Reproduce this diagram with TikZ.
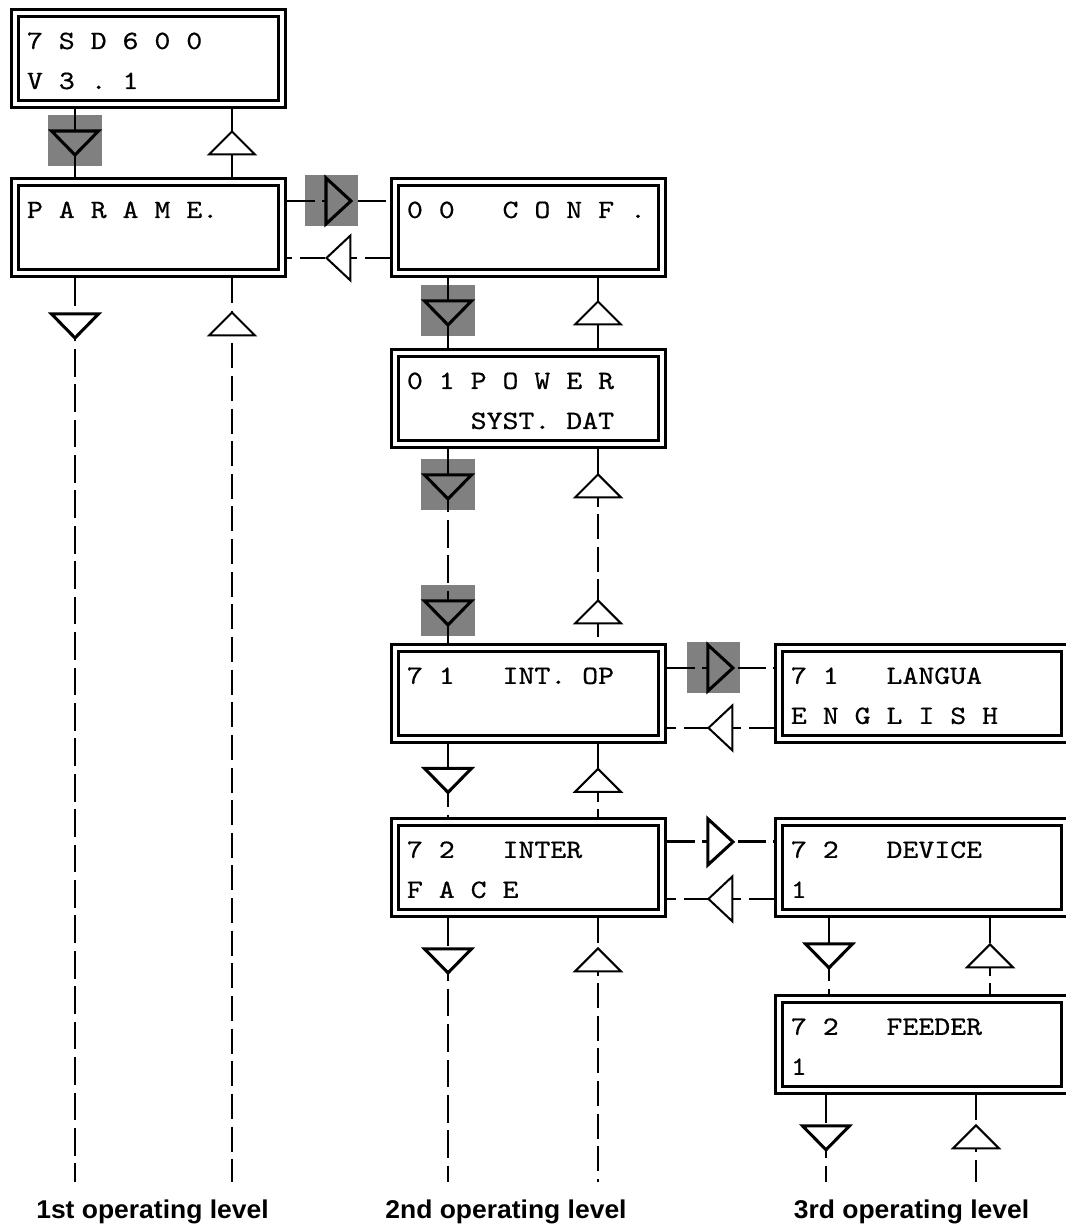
\documentclass[tikz,border=0pt]{standalone}
\usepackage{fontspec}
\usetikzlibrary{positioning, calc}

\newfontfamily\lcdfont[FakeStretch=1.15, FakeBold=0.6]{lmmono10-regular.otf}
\newfontfamily\lvlfont[FakeStretch=1.03]{Liberation Sans}
\newcommand{\lcdtext}{\lcdfont\fontsize{19pt}{28.8pt}\selectfont\frenchspacing}
\newcommand{\lvltext}{\lvlfont\fontsize{18.5pt}{22pt}\selectfont\bfseries}
\definecolor{lcdgray}{RGB}{128,128,128}
\newlength{\lcdwd}
\newcommand{\lcd}[2]{\makebox[\lcdwd][l]{\raisebox{-1.8pt}[\height][\depth]{%
    \begin{tabular}{@{}l@{}}#1\\\mbox{}#2\end{tabular}}}}
\pgfdeclarelayer{background}
\pgfsetlayers{background,main}

\begin{document}
\begin{tikzpicture}[
    x=0.72pt, y=-0.72pt,
    lcd/.style={
        rectangle,
        draw=black,
        double,
        line width=1.94pt,
        double distance=3.3pt,
        outer sep=3.59pt,
        inner sep=0pt,
        inner xsep=8.64pt,
        minimum width=192.24pt,
        minimum height=65.52pt,
        font=\lcdtext,
        execute at begin node={\setlength{\lcdwd}{174.96pt}}
    },
    lcdw/.style={lcd, minimum width=205.92pt,
        execute at begin node={\setlength{\lcdwd}{188.64pt}}},
    fwd/.style={draw=black, line width=2.05pt, dash pattern=on 20pt off 5.5pt},
    back/.style={draw=black, line width=0.95pt, dash pattern=on 18pt off 5.5pt},
    fwdtri/.style={draw=black, fill=white, solid, line width=2.2pt, line join=miter},
    backtri/.style={draw=black, fill=white, solid, line width=1.45pt, line join=miter},
    lvl/.style={anchor=base, font=\lvltext},
    dn/.pic={\path[fwdtri] (-23.5,-12) -- (23.5,-12) -- (0,12) -- cycle;},
    dnhl/.pic={
        \begin{pgfonlayer}{background}
            \fill[lcdgray] (-27,-28) rectangle (27,23);
        \end{pgfonlayer}
        \path[fwdtri, fill=lcdgray] (-23.5,-12) -- (23.5,-12) -- (0,12) -- cycle;},
    rt/.pic={\path[fwdtri] (-12.5,-23) -- (-12.5,23) -- (12.5,0) -- cycle;},
    rthl/.pic={
        \begin{pgfonlayer}{background}
            \fill[lcdgray] (-33.5,-26) rectangle (20,25);
        \end{pgfonlayer}
        \path[fwdtri, fill=lcdgray] (-12.5,-23) -- (-12.5,23) -- (12.5,0) -- cycle;},
    up/.pic={\path[backtri] (-23,11.5) -- (23,11.5) -- (0,-11.5) -- cycle;},
    lt/.pic={\path[backtri] (12,-22.5) -- (12,22.5) -- (-12,0) -- cycle;}
]
    \useasboundingbox (0,0) rectangle (1065,1225);

    \node [lcd, anchor=north west] (sd) at (10,8) {\lcd{7 S D 6 0 0}{V 3 . 1}};
    \node [lcd, below=48.96pt of sd] (param) {\lcd{P A R A M E.}{}};
    \node [lcd, right=74.16pt of param] (conf) {\lcd{0 0\ \ \ C O N F .}{}};
    \node [lcd, below=50.4pt of conf] (power) {\lcd{0 1 P O W E R}{\ \ \ \ SYST. DAT}};
    \node [lcd, below=139.68pt of power] (intop) {\lcd{7 1\ \ \ INT. OP}{}};
    \node [lcd, below=52.56pt of intop] (inter) {\lcd{7 2\ \ \ INTER}{F A C E}};
    \node [lcdw, right=77.04pt of intop] (langua) {\lcd{7 1\ \ \ LANGUA}{E N G L I S H}};
    \node [lcdw, right=77.04pt of inter] (device) {\lcd{7 2\ \ \ DEVICE}{1}};
    \node [lcdw, below=54.72pt of device] (feeder) {\lcd{7 2\ \ \ FEEDER}{1}};

    \coordinate (c1d) at (75,1182);
    \coordinate (c1u) at (232,1182);
    \coordinate (c2d) at (448,1182);
    \coordinate (c2u) at (598,1182);
    \coordinate (c3d) at (826,1182);
    \coordinate (c3u) at (976,1182);

    \draw [fwd, solid] (sd.south -| c1d) -- (param.north -| c1d);
    \draw [back, solid] (sd.south -| c1u) -- (param.north -| c1u);
    \pic at ($(sd.south -| c1d)!.5!(param.north -| c1d)$) {dnhl};
    \pic at ($(sd.south -| c1u)!.5!(param.north -| c1u)$) {up};

    \draw [fwd] (param.south -| c1d) -- (c1d);
    \draw [back] (param.south -| c1u) -- (c1u);
    \pic at ($(param.south -| c1d)+(0,48)$) {dn};
    \pic at ($(param.south -| c1u)+(0,46)$) {up};

    \draw [fwd] ($(param.north east)+(0,24)$) -- ($(conf.north west)+(0,24)$);
    \draw [back] ($(conf.north west)+(0,81)$) -- ($(param.north east)+(0,81)$);
    \pic at ($(param.north east)!.5!(conf.north west)+(0,24)$) {rthl};
    \pic at ($(param.north east)!.5!(conf.north west)+(0,81)$) {lt};

    \draw [fwd, solid] (conf.south -| c2d) -- (power.north -| c2d);
    \draw [back, solid] (conf.south -| c2u) -- (power.north -| c2u);
    \pic at ($(conf.south -| c2d)!.5!(power.north -| c2d)$) {dnhl};
    \pic at ($(conf.south -| c2u)!.5!(power.north -| c2u)$) {up};

    \draw [fwd] (power.south -| c2d) -- (intop.north -| c2d);
    \draw [back] (power.south -| c2u) -- (intop.north -| c2u);
    \pic at ($(power.south -| c2d)+(0,38)$) {dnhl};
    \pic at ($(intop.north -| c2d)+(0,-30)$) {dnhl};
    \pic at ($(power.south -| c2u)+(0,37)$) {up};
    \pic at ($(intop.north -| c2u)+(0,-31)$) {up};

    \draw [fwd] (intop.south -| c2d) -- (inter.north -| c2d);
    \draw [back] (intop.south -| c2u) -- (inter.north -| c2u);
    \pic at ($(intop.south -| c2d)!.5!(inter.north -| c2d)$) {dn};
    \pic at ($(intop.south -| c2u)!.5!(inter.north -| c2u)$) {up};

    \draw [fwd] ($(intop.north east)+(0,25)$) -- ($(langua.north west)+(0,25)$);
    \draw [back] ($(langua.north west)+(0,85)$) -- ($(intop.north east)+(0,85)$);
    \pic at ($(intop.north east)!.5!(langua.north west)+(0,25)$) {rthl};
    \pic at ($(intop.north east)!.5!(langua.north west)+(0,85)$) {lt};

    \draw [fwd] (inter.south -| c2d) -- (c2d);
    \draw [back] (inter.south -| c2u) -- (c2u);
    \pic at ($(inter.south -| c2d)+(0,43)$) {dn};
    \pic at ($(inter.south -| c2u)+(0,42)$) {up};

    \draw [fwd] ($(inter.north east)+(0,25)$) -- ($(device.north west)+(0,25)$);
    \draw [back] ($(device.north west)+(0,82)$) -- ($(inter.north east)+(0,82)$);
    \pic at ($(inter.north east)!.5!(device.north west)+(0,25)$) {rt};
    \pic at ($(inter.north east)!.5!(device.north west)+(0,82)$) {lt};

    \draw [fwd] (device.south -| 829,0) -- (feeder.north -| 829,0);
    \draw [back] (device.south -| 990,0) -- (feeder.north -| 990,0);
    \pic at ($(device.south -| 829,0)!.5!(feeder.north -| 829,0)$) {dn};
    \pic at ($(device.south -| 990,0)!.5!(feeder.north -| 990,0)$) {up};

    \draw [fwd] (feeder.south -| c3d) -- (c3d);
    \draw [back] (feeder.south -| c3u) -- (c3u);
    \pic at ($(feeder.south -| c3d)+(0,43)$) {dn};
    \pic at ($(feeder.south -| c3u)+(0,42)$) {up};

    \node [lvl] (lvl1) at (152.5,1218) {1st operating level};
    \node [lvl] (lvl2) at (506,1218) {2nd operating level};
    \node [lvl] (lvl3) at (911.5,1218) {3rd operating level};
\end{tikzpicture}
\end{document}
